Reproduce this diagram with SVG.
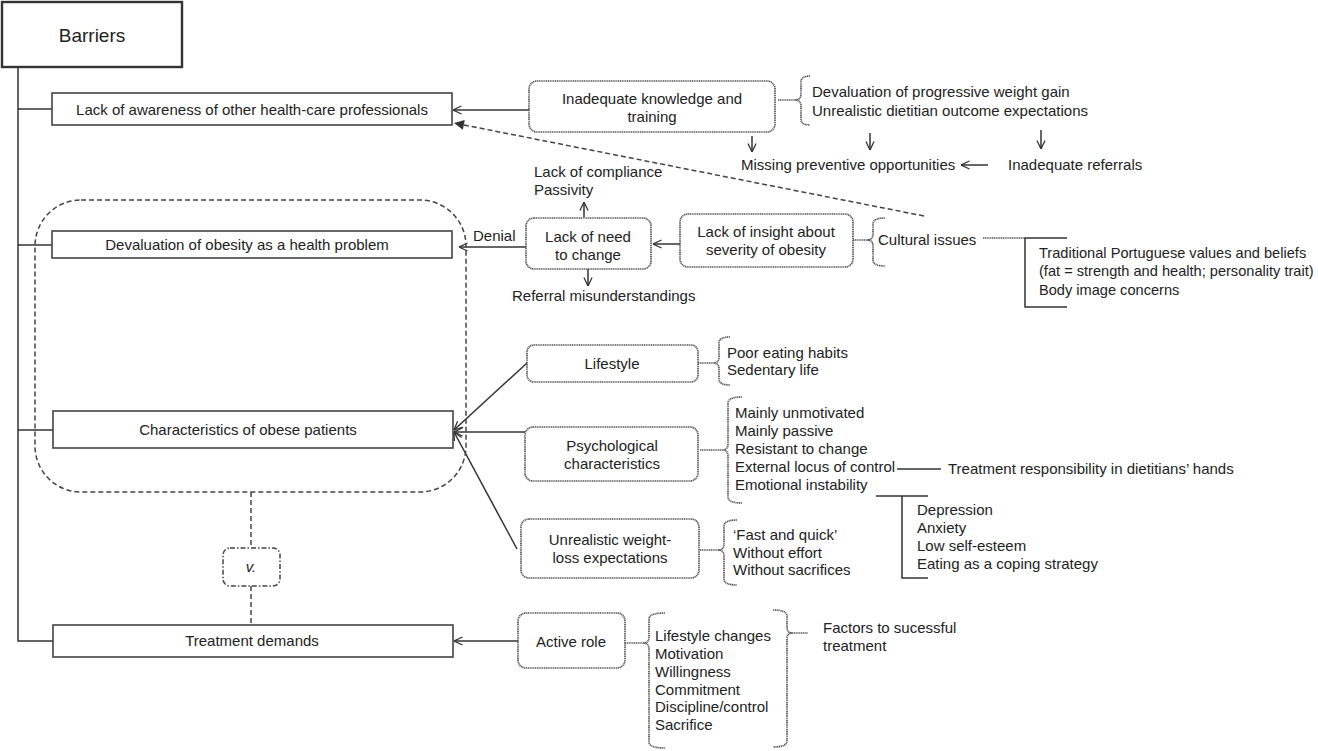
<svg xmlns="http://www.w3.org/2000/svg" width="1318" height="751" viewBox="0 0 1318 751">
<defs>
<marker id="open" viewBox="0 0 10 10" refX="9.5" refY="5" markerWidth="9" markerHeight="10" markerUnits="userSpaceOnUse" orient="auto">
<path d="M0,0.5 L9.5,5 L0,9.5" fill="none" stroke="#333" stroke-width="1.4"/>
</marker>
<marker id="filled" viewBox="0 0 10 10" refX="10" refY="5" markerWidth="11" markerHeight="10" markerUnits="userSpaceOnUse" orient="auto">
<path d="M0,0 L10,5 L0,10 Z" fill="#333"/>
</marker>
</defs>
<style>
text{font-family:"Liberation Sans",Arial,sans-serif;font-size:15px;fill:#222}
.c{text-anchor:middle}
.box{fill:#fff;stroke:#444;stroke-width:1.6}
.rbox{fill:#fff;stroke:#555;stroke-width:1.7;stroke-dasharray:1.2 0.6}
.ln{fill:none;stroke:#333;stroke-width:1.5}
.dot{fill:none;stroke:#555;stroke-width:1.7;stroke-dasharray:1.2 0.6}
.ar{fill:none;stroke:#333;stroke-width:1.5;marker-end:url(#open)}
.dash{fill:none;stroke:#444;stroke-width:1.5;stroke-dasharray:5 3}
</style>
<rect width="1318" height="751" fill="#fff"/>

<g id="connectors">
<path class="ln" d="M18,67 V641 H53"/>
<path class="ln" d="M18,109 H52 M18,245 H52 M18,430 H53"/>
<path class="ar" d="M529,110 H453"/>
<path class="dash" d="M924,216 L454,123" marker-end="url(#filled)"/>
<path class="ar" d="M752,136 V152"/>
<path class="ar" d="M870,133 V150"/>
<path class="ar" d="M1041,130 V149"/>
<path class="ar" d="M988,165 H961"/>
<path class="ar" d="M584,217 V202"/>
<path class="ar" d="M588,269 V286"/>
<path class="ar" d="M526,247 H459"/>
<path class="ar" d="M680,244 H653"/>
<path class="ar" d="M527,363 L454,430"/>
<path class="ar" d="M525,432 H454"/>
<path class="ar" d="M517,549 L454,432"/>
<path class="ar" d="M518,641 H454"/>
<path class="dash" d="M251,492 V548 M251,586 V625"/>
<path class="dot" d="M778,100 H795 M853,240 H867 M698,363 H713 M700,450 H722 M700,550 H718 M625,643 H643 M792,633 H808 M983,238 H1025"/>
<path class="ln" d="M1067,238 H1025 V307 H1067"/>
<path class="ln" d="M897,469 H941"/>
<path class="ln" d="M876,496 H928 M902,496 V578 H928"/>
<!-- braces -->
<path class="dot" d="M810,76 Q801,76 801,82 V94 Q801,100 795,100 Q801,100 801,106 V119 Q801,125 810,125"/>
<path class="dot" d="M885,218 Q873,218 873,224 V234 Q873,240 867,240 Q873,240 873,246 V260 Q873,266 885,266"/>
<path class="dot" d="M730,337 Q719,337 719,343 V357 Q719,363 713,363 Q719,363 719,369 V379 Q719,385 730,385"/>
<path class="dot" d="M742,397 Q728,397 728,403 V444 Q728,450 722,450 Q728,450 728,456 V497 Q728,503 742,503"/>
<path class="dot" d="M737,520 Q724,520 724,526 V544 Q724,550 718,550 Q724,550 724,556 V579 Q724,585 737,585"/>
<path class="dot" d="M665,613 Q649,613 649,619 V637 Q649,643 643,643 Q649,643 649,649 V742 Q649,748 665,748"/>
<path class="dot" d="M773,610 Q787,610 787,616 V627 Q787,633 792,633 Q787,633 787,639 V741 Q787,747 773,747"/>
</g>

<g id="group-boundary">
<rect x="35" y="200" width="431" height="292" rx="46" fill="none" stroke="#444" stroke-width="1.5" stroke-dasharray="5 3"/>
</g>

<g id="barriers">
<rect x="2" y="2" width="180" height="65" fill="#fff" stroke="#333" stroke-width="2.4"/>
<text class="c" x="92" y="42" style="font-size:19px">Barriers</text>
</g>
<g id="lack-awareness">
<rect class="box" x="52" y="93" width="400" height="32"/>
<text class="c" x="252" y="115">Lack of awareness of other health-care professionals</text>
</g>
<g id="devaluation">
<rect class="box" x="52" y="231" width="400" height="27"/>
<text class="c" x="247" y="250">Devaluation of obesity as a health problem</text>
</g>
<g id="characteristics">
<rect class="box" x="53" y="411" width="400" height="37"/>
<text class="c" x="248" y="435">Characteristics of obese patients</text>
</g>
<g id="treatment-demands">
<rect class="box" x="53" y="625" width="400" height="32"/>
<text class="c" x="252" y="646">Treatment demands</text>
</g>
<g id="v">
<rect x="223" y="548" width="57" height="38" rx="7" fill="#fff" stroke="#444" stroke-width="1.5" stroke-dasharray="5 2 1.5 2"/>
<text class="c" x="251" y="572" style="font-style:italic">v.</text>
</g>

<g id="inadequate-knowledge">
<rect class="rbox" x="529" y="81" width="246" height="51" rx="8"/>
<text class="c" x="652" y="104">Inadequate knowledge and</text>
<text class="c" x="652" y="122">training</text>
</g>
<g id="knowledge-details">
<text x="812" y="97">Devaluation of progressive weight gain</text>
<text x="812" y="116">Unrealistic dietitian outcome expectations</text>
</g>
<g id="missing">
<text x="741" y="170">Missing preventive opportunities</text>
</g>
<g id="referrals">
<text x="1008" y="170">Inadequate referrals</text>
</g>

<g id="compliance">
<text x="534" y="177">Lack of compliance</text>
<text x="534" y="195">Passivity</text>
</g>
<g id="lack-need">
<rect class="rbox" x="526" y="218" width="125" height="51" rx="8"/>
<text class="c" x="588" y="242">Lack of need</text>
<text class="c" x="588" y="260">to change</text>
</g>
<g id="referral-mis">
<text x="512" y="301">Referral misunderstandings</text>
</g>
<g id="denial">
<text x="473" y="241">Denial</text>
</g>
<g id="lack-insight">
<rect class="rbox" x="680" y="214" width="173" height="53" rx="8"/>
<text class="c" x="766" y="237">Lack of insight about</text>
<text class="c" x="766" y="255">severity of obesity</text>
</g>
<g id="cultural">
<text x="878" y="245">Cultural issues</text>
</g>
<g id="cultural-details" style="font-size:14.6px">
<text x="1039" y="258" style="font-size:14.6px">Traditional Portuguese values and beliefs</text>
<text x="1039" y="276" style="font-size:14.6px">(fat = strength and health; personality trait)</text>
<text x="1039" y="295" style="font-size:14.6px">Body image concerns</text>
</g>

<g id="lifestyle">
<rect class="rbox" x="527" y="345" width="171" height="37" rx="7"/>
<text class="c" x="612" y="369">Lifestyle</text>
</g>
<g id="lifestyle-details">
<text x="727" y="358">Poor eating habits</text>
<text x="727" y="375">Sedentary life</text>
</g>
<g id="psychological">
<rect class="rbox" x="525" y="427" width="173" height="54" rx="8"/>
<text class="c" x="612" y="451">Psychological</text>
<text class="c" x="612" y="469">characteristics</text>
</g>
<g id="psych-details">
<text x="735" y="418">Mainly unmotivated</text>
<text x="735" y="436">Mainly passive</text>
<text x="735" y="454">Resistant to change</text>
<text x="735" y="472">External locus of control</text>
<text x="735" y="490">Emotional instability</text>
</g>
<g id="responsibility">
<text x="948" y="474">Treatment responsibility in dietitians’ hands</text>
</g>
<g id="emotional-details">
<text x="917" y="515">Depression</text>
<text x="917" y="533">Anxiety</text>
<text x="917" y="551">Low self-esteem</text>
<text x="917" y="569">Eating as a coping strategy</text>
</g>
<g id="unrealistic">
<rect class="rbox" x="521" y="519" width="178" height="59" rx="8"/>
<text class="c" x="610" y="545">Unrealistic weight-</text>
<text class="c" x="610" y="563">loss expectations</text>
</g>
<g id="unrealistic-details">
<text x="733" y="540">‘Fast and quick’</text>
<text x="733" y="558">Without effort</text>
<text x="733" y="575">Without sacrifices</text>
</g>

<g id="active-role">
<rect class="rbox" x="518" y="613" width="107" height="55" rx="8"/>
<text class="c" x="571" y="647">Active role</text>
</g>
<g id="active-details">
<text x="655" y="641">Lifestyle changes</text>
<text x="655" y="659">Motivation</text>
<text x="655" y="677">Willingness</text>
<text x="655" y="695">Commitment</text>
<text x="655" y="712">Discipline/control</text>
<text x="655" y="730">Sacrifice</text>
</g>
<g id="factors">
<text x="823" y="633">Factors to sucessful</text>
<text x="823" y="651">treatment</text>
</g>
</svg>
